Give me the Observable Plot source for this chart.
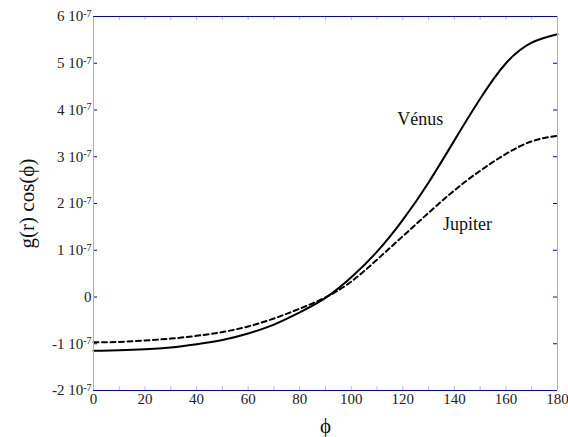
<!DOCTYPE html>
<html><head><meta charset="utf-8">
<script src="https://cdn.jsdelivr.net/npm/d3@7"></script>
<script src="https://cdn.jsdelivr.net/npm/@observablehq/plot@0.6"></script>
<style>
html,body{margin:0;padding:0;background:#fff;}
#chart svg, #chart svg text { font-family: "Liberation Serif", "Times New Roman", serif !important; }
</style></head><body><div id="chart"></div>
<script>
// angle φ (degrees)
const phi = [0,10,20,30,40,50,60,70,80,90,100,110,120,130,140,150,160,170,180];
// g(r) cos(φ) for Vénus (solid) and Jupiter (dashed)
const venus = [-1.15e-7,-1.14e-7,-1.12e-7,-1.08e-7,-1.01e-7,-0.92e-7,-0.78e-7,-0.59e-7,-0.33e-7,-0.02e-7,0.42e-7,0.97e-7,1.65e-7,2.45e-7,3.35e-7,4.24e-7,5.00e-7,5.44e-7,5.62e-7];
const jupiter = [-0.97e-7,-0.96e-7,-0.93e-7,-0.89e-7,-0.83e-7,-0.75e-7,-0.63e-7,-0.46e-7,-0.25e-7,-0.01e-7,0.33e-7,0.80e-7,1.30e-7,1.80e-7,2.28e-7,2.70e-7,3.06e-7,3.33e-7,3.45e-7];
const xTicks = [0,20,40,60,80,100,120,140,160,180];
const xMinorTicks = [0,10,20,30,40,50,60,70,80,90,100,110,120,130,140,150,160,170,180];
const yTicks = [-2e-7,-1e-7,0,1e-7,2e-7,3e-7,4e-7,5e-7,6e-7];
const yExponent = -7;
const seriesNames = ["Vénus","Jupiter"];
const labelPhi = [117.8, 135.6];
const labelValue = [3.81e-7, 1.55e-7];
const xLabel = "ϕ";
const yLabel = "g(r) cos(ϕ)";

const venusData = phi.map((p,i)=>({phi:p, g:venus[i]}));
const jupiterData = phi.map((p,i)=>({phi:p, g:jupiter[i]}));
const labelData = seriesNames.map((n,i)=>({name:n, phi:labelPhi[i], g:labelValue[i]}));

const W = 568, H = 437, ML = 93, MR = 11, MT = 16, MB = 47;
const plotW = W - ML - MR, plotH = H - MT - MB;
const dark = "#0000cc", light = "#a8a8ff", minor = "#b8b8d8";
const font = "Liberation Serif";

const chart = Plot.plot({
  width: W, height: H,
  marginLeft: ML, marginRight: MR, marginTop: MT, marginBottom: MB,
  style: {fontFamily: font, fontSize: "15px", background: "#fff", color: "#222"},
  x: {domain: [0,180], axis: null},
  y: {domain: [-2e-7, 6e-7], axis: null},
  marks: [
    Plot.tickX(xMinorTicks, {x: d=>d, stroke: minor, insetTop: plotH - 4}),
    Plot.tickX(xMinorTicks, {x: d=>d, stroke: minor, insetBottom: plotH - 4}),
    Plot.tickY(yTicks, {y: d=>d, stroke: dark, insetRight: plotW - 4}),
    Plot.tickY(yTicks, {y: d=>d, stroke: dark, insetLeft: plotW - 4}),
    Plot.axisX(xTicks, {tickSize: 0, tickPadding: 3, fontSize: 15, fontFamily: font, label: null}),
    Plot.axisY(yTicks, {tickSize: 0, tickPadding: 2, fontSize: 15, fontFamily: font, label: null,
      tickFormat: d => { const m = Math.round(d / Math.pow(10, yExponent)); return m === 0 ? "0" : `${m} 10`; }}),
    Plot.line(jupiterData, {x: "phi", y: "g", stroke: "#000", strokeWidth: 2, strokeDasharray: "5,3.5", curve: "natural"}),
    Plot.line(venusData, {x: "phi", y: "g", stroke: "#000", strokeWidth: 2, curve: "natural"}),
    Plot.ruleX([0], {stroke: light}),
    Plot.ruleX([180], {stroke: light}),
    Plot.ruleY([-2e-7], {stroke: dark}),
    Plot.ruleY([6e-7], {stroke: dark}),
    Plot.text(labelData, {x: "phi", y: "g", text: "name", textAnchor: "start", fontSize: 18, fontFamily: font, fill: "#111"}),
    Plot.text([xLabel], {frameAnchor: "bottom", textAnchor: "middle", lineAnchor: "middle", dy: 36, fontSize: 21, fontFamily: font, fill: "#111"}),
    Plot.text([yLabel], {frameAnchor: "left", textAnchor: "middle", lineAnchor: "middle", rotate: -90, dx: -66, fontSize: 21, fontFamily: font, fill: "#111"})
  ]
});

chart.querySelectorAll('g[aria-label="y-axis tick label"] text').forEach(t => {
  const s = t.textContent;
  if (s !== "0") {
    t.textContent = s;
    const sup = document.createElementNS("http://www.w3.org/2000/svg", "tspan");
    sup.setAttribute("dy", "-0.45em");
    sup.setAttribute("font-size", "10");
    sup.textContent = String(yExponent);
    t.appendChild(sup);
  }
});
document.getElementById("chart").appendChild(chart);
</script></body></html>
